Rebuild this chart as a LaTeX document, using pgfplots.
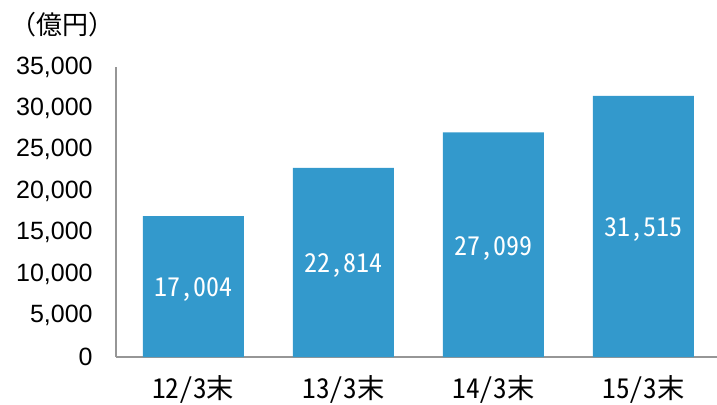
\documentclass[border=0pt]{standalone}
\usepackage{pgfplots}
\pgfplotsset{compat=1.18}
\usepackage{fontspec}
\setmainfont{Liberation Sans}
\newfontfamily\jp[CharacterWidth=Half]{Noto Sans CJK JP}
\newfontfamily\jpp{Noto Sans CJK JP}
\definecolor{barblue}{RGB}{51,153,204}
\definecolor{axgray}{RGB}{150,150,150}
\begin{document}
\begin{tikzpicture}
\useasboundingbox (-87pt,-35.25pt) rectangle (450.75pt,267.75pt);
\begin{axis}[
  at={(0,0)}, anchor=south west,
  scale only axis,
  width=450.75pt, height=217.5pt,
  xmin=-0.515, xmax=3.49,
  ymin=0, ymax=35000,
  axis x line*=bottom, axis y line*=left,
  axis line style={axgray, line width=0.9pt},
  x axis line style={-}, y axis line style={-},
  xtick={0,1,2,3},
  xticklabels={12/3末,13/3末,14/3末,15/3末},
  ytick={0,5000,...,35000},
  major tick length=0pt,
  scaled y ticks=false,
  /pgf/number format/assume math mode=true,
  yticklabel style={/pgf/number format/1000 sep={,}, font=\fontsize{18.75pt}{20pt}\selectfont, anchor=east, xshift=-14pt},
  xticklabel style={font=\jp\fontsize{20.5pt}{22pt}\selectfont, anchor=north, yshift=-10pt},
  clip=false,
]
\addplot[ybar, bar shift=0pt, bar width=75.75pt, fill=barblue, draw=none] coordinates {(0,17004) (1,22814) (2,27099) (3,31515)};
\addplot[draw=none, mark=none, nodes near coords, point meta=explicit symbolic,
  every node near coord/.append style={anchor=center, yshift=-2.5pt, text=white, font=\jp\fontsize{19.5pt}{21pt}\selectfont}]
  table[meta=lab] {
x y lab
0 8502 {17,004}
1 11407 {22,814}
2 13550 {27,099}
3 15758 {31,515}
};
\end{axis}
\node[anchor=west, font=\jpp\fontsize{19.5pt}{21pt}\selectfont, inner sep=0pt] at (-79pt,249.5pt) {（億円）};
\end{tikzpicture}
\end{document}
